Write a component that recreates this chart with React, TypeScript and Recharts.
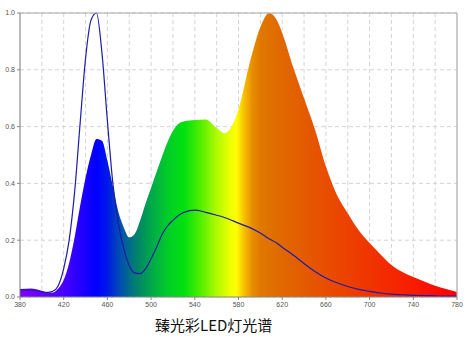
import React from 'react';
import { ComposedChart, Area, Line, XAxis, YAxis, CartesianGrid, ReferenceLine } from 'recharts';

const wavelengths = [380, 390, 400, 405, 410, 415, 420, 425, 430, 435, 440, 445, 450, 455, 460, 465, 470, 475, 480, 485, 490, 495, 500, 505, 510, 515, 520, 525, 530, 540, 550, 560, 567, 575, 580, 590, 600, 608, 615, 620, 630, 640, 650, 660, 670, 680, 690, 700, 710, 720, 730, 740, 750, 760, 770, 780];

const ledSpectrum = [0.028, 0.03, 0.022, 0.016, 0.016, 0.03, 0.06, 0.12, 0.21, 0.32, 0.42, 0.5, 0.556, 0.55, 0.48, 0.39, 0.3, 0.245, 0.21, 0.222, 0.27, 0.33, 0.385, 0.44, 0.495, 0.545, 0.585, 0.61, 0.618, 0.623, 0.625, 0.595, 0.577, 0.61, 0.66, 0.82, 0.95, 1.0, 0.975, 0.93, 0.81, 0.7, 0.59, 0.46, 0.36, 0.295, 0.235, 0.19, 0.15, 0.113, 0.088, 0.07, 0.055, 0.04, 0.028, 0.018];

const referenceSpectrum = [0.025, 0.025, 0.018, 0.016, 0.02, 0.04, 0.1, 0.2, 0.37, 0.61, 0.84, 0.975, 1.0, 0.86, 0.62, 0.4, 0.26, 0.17, 0.11, 0.085, 0.082, 0.1, 0.135, 0.175, 0.22, 0.25, 0.27, 0.287, 0.298, 0.306, 0.298, 0.288, 0.28, 0.268, 0.26, 0.245, 0.225, 0.205, 0.19, 0.175, 0.148, 0.118, 0.09, 0.067, 0.05, 0.037, 0.027, 0.02, 0.014, 0.01, 0.008, 0.006, 0.005, 0.004, 0.003, 0.003];

const xTicks = [380, 420, 460, 500, 540, 580, 620, 660, 700, 740, 780];
const xGrid = [400, 420, 440, 460, 480, 500, 520, 540, 560, 580, 600, 620, 640, 660, 680, 700, 720, 740, 760];
const yTicks = [0, 0.2, 0.4, 0.6, 0.8, 1.0];

const gradientStops: [number, string][] = [
  [380, '#8000ff'], [400, '#6a00ff'], [420, '#4800ff'], [440, '#1800ff'], [450, '#0000ff'],
  [460, '#0018e8'], [470, '#0048b8'], [480, '#006c88'], [490, '#008a62'], [500, '#00a84a'],
  [515, '#00cc28'], [530, '#00e010'], [545, '#50ee00'], [560, '#b0fa00'], [573, '#f0ff00'],
  [578, '#ffff00'], [585, '#f8c000'], [592, '#e89000'], [600, '#e07800'], [620, '#e06800'],
  [650, '#e65400'], [700, '#f03400'], [740, '#f81c00'], [780, '#ff0000'],
];

const title = '臻光彩LED灯光谱';

const data = wavelengths.map((w, i) => ({ w, led: ledSpectrum[i], ref: referenceSpectrum[i] }));

const tickStyle = { fontSize: 7, fill: '#555', fontFamily: 'Liberation Sans, Arial, sans-serif' };

export default function App() {
  return (
    <div style={{ position: 'absolute', left: 0, top: 0, width: 466, height: 338, background: '#fff' }}>
      <ComposedChart width={466} height={338} data={data} margin={{ top: 13, right: 9, bottom: 26, left: 0 }}>
        <defs>
          <linearGradient id="spec" x1="0" y1="0" x2="1" y2="0">
            {gradientStops.map(([nm, c]) => (
              <stop key={nm} offset={(nm - 380) / 400} stopColor={c} />
            ))}
          </linearGradient>
        </defs>
        <CartesianGrid stroke="#d4d4d4" strokeDasharray="4 3" verticalValues={xGrid} />
        <XAxis
          dataKey="w"
          type="number"
          domain={[380, 780]}
          ticks={xTicks}
          interval={0}
          height={15}
          tick={tickStyle}
          tickSize={3}
          tickLine={{ stroke: '#888' }}
          axisLine={{ stroke: '#888' }}
        />
        <YAxis
          type="number"
          domain={[0, 1]}
          ticks={yTicks}
          width={20}
          tick={tickStyle}
          tickSize={3}
          tickFormatter={(v: number) => v.toFixed(1)}
          tickLine={{ stroke: '#888' }}
          axisLine={{ stroke: '#777' }}
        />
        <Area type="monotone" dataKey="led" fill="url(#spec)" fillOpacity={1} stroke="none" isAnimationActive={false} />
        <Line type="monotone" dataKey="ref" stroke="#1c1ca8" strokeWidth={1.2} dot={false} isAnimationActive={false} />
        <ReferenceLine y={1} stroke="#aaa" strokeWidth={1.2} />
        <ReferenceLine x={780} stroke="#aaa" strokeWidth={1.2} />
      </ComposedChart>
      <div
        style={{
          position: 'absolute',
          left: 155,
          top: 317,
          fontSize: 15,
          lineHeight: '15px',
          color: '#111',
          fontFamily: '"Noto Sans CJK SC", sans-serif',
          whiteSpace: 'nowrap',
        }}
      >
        {title}
      </div>
    </div>
  );
}
